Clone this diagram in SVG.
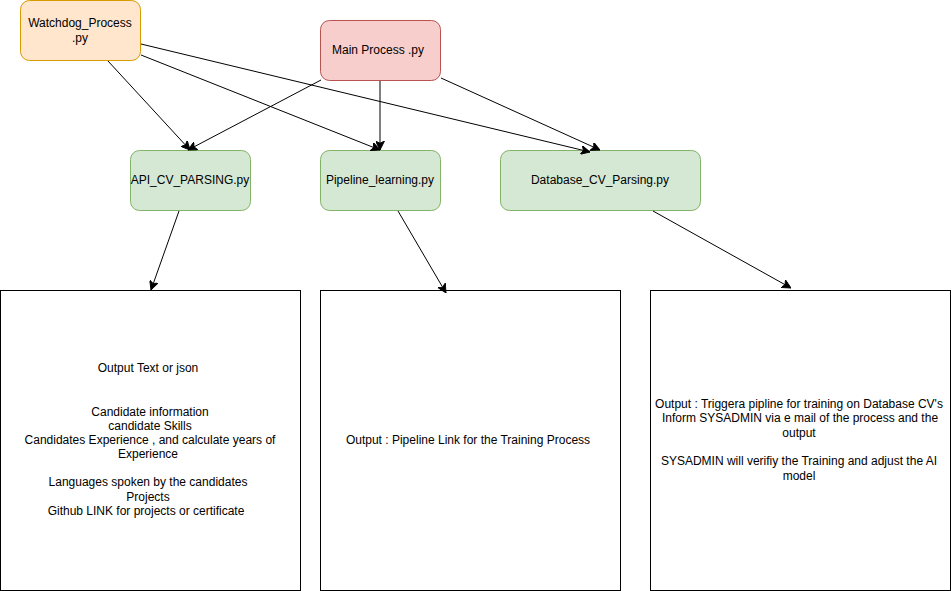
<svg xmlns="http://www.w3.org/2000/svg" width="951" height="591" viewBox="0 0 951 591">
<defs>
<style>
text{font-family:"Liberation Sans",Arial,sans-serif;font-size:12px;fill:#000;text-anchor:middle}
.orange{fill:#ffe6cc;stroke:#d79b00}
.red{fill:#f8cecc;stroke:#b85450}
.green{fill:#d5e8d4;stroke:#82b366}
.box{fill:#fff;stroke:#000}
.edge{fill:none;stroke:#000;stroke-width:1;marker-end:url(#arr)}
</style>
<marker id="arr" viewBox="0 0 10 10" refX="10" refY="5" markerWidth="9" markerHeight="9" markerUnits="userSpaceOnUse" orient="auto">
<path d="M0,0 L10,5 L0,10 L2.5,5 z" fill="#000" stroke="#000" stroke-width="1"/>
</marker>
</defs>
<rect width="951" height="591" fill="#fff"/>
<g id="watchdog"><rect class="orange" x="20.5" y="0.5" width="120" height="60" rx="9"/><text x="80" y="27">Watchdog_Process</text><text x="80" y="42">.py</text></g>
<g id="main"><rect class="red" x="320.5" y="20.5" width="120" height="60" rx="9"/><text x="378" y="54">Main Process .py</text></g>
<g id="api"><rect class="green" x="130.5" y="150.5" width="120" height="60" rx="9"/><text x="190" y="184">API_CV_PARSING.py</text></g>
<g id="pipeline"><rect class="green" x="320.5" y="150.5" width="120" height="60" rx="9"/><text x="380" y="184">Pipeline_learning.py</text></g>
<g id="database"><rect class="green" x="500.5" y="150.5" width="200" height="60" rx="9"/><text x="600" y="184">Database_CV_Parsing.py</text></g>
<g id="out1"><rect class="box" x="0.5" y="290.5" width="300" height="300"/>
<text x="148" y="372">Output Text or json</text>
<text x="150" y="416">Candidate information</text>
<text x="150" y="430">candidate Skills</text>
<text x="150" y="444">Candidates Experience , and calculate years of</text>
<text x="148" y="458">Experience</text>
<text x="148" y="486">Languages spoken by the candidates</text>
<text x="148" y="501">Projects</text>
<text x="146" y="515">Github LINK for projects or certificate</text>
</g>
<g id="out2"><rect class="box" x="320.5" y="290.5" width="300" height="300"/><text x="468" y="444">Output : Pipeline Link for the Training Process</text></g>
<g id="out3"><rect class="box" x="650.5" y="290.5" width="300" height="300"/>
<text x="799" y="408">Output : Triggera pipline for training on Database CV's</text>
<text x="800" y="422">Inform SYSADMIN via e mail of the process and the</text>
<text x="799" y="437">output</text>
<text x="799" y="465">SYSADMIN will verifiy the Training and adjust the AI</text>
<text x="799" y="480">model</text>
</g>
<g id="connectors">
<path class="edge" d="M108,61 L190,150"/>
<path class="edge" d="M141,55 L380,150"/>
<path class="edge" d="M141,44 L590,152"/>
<path class="edge" d="M321,80 L188,150"/>
<path class="edge" d="M380,81 L380,150"/>
<path class="edge" d="M441,78 L600,150"/>
<path class="edge" d="M179,211 L151,290"/>
<path class="edge" d="M398,211 L446,293"/>
<path class="edge" d="M653,211 L791,288"/>
</g>
</svg>
